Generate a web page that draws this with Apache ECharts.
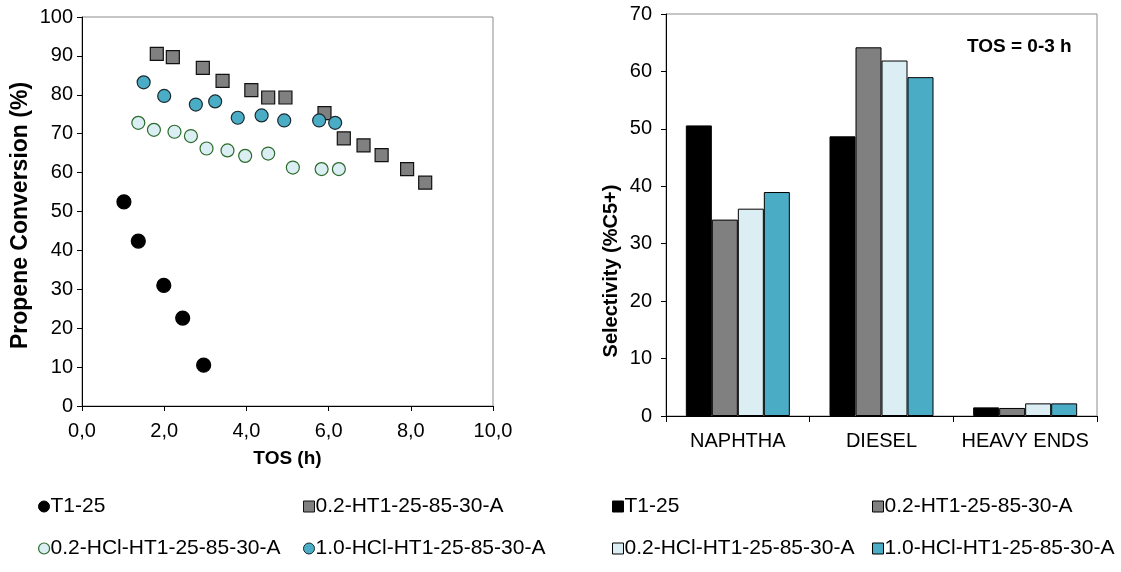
<!DOCTYPE html>
<html>
<head>
<meta charset="utf-8">
<script src="https://cdn.jsdelivr.net/npm/echarts@6/dist/echarts.min.js"></script>
<style>html,body{margin:0;padding:0;background:#fff;}#c{width:1121px;height:572px;}</style>
</head>
<body>
<div id="c"></div>
<script>
// ---- Data ----
const seriesNames = ['T1-25', '0.2-HT1-25-85-30-A', '0.2-HCl-HT1-25-85-30-A', '1.0-HCl-HT1-25-85-30-A'];

// Left: propene conversion vs TOS
const t1_x = [1.02, 1.37, 1.99, 2.45, 2.96];
const t1_y = [52.5, 42.4, 31.0, 22.6, 10.5];
const ht_x = [1.82, 2.21, 2.94, 3.42, 4.12, 4.53, 4.95, 5.90, 6.37, 6.85, 7.29, 7.91, 8.35];
const ht_y = [90.5, 89.7, 86.9, 83.6, 81.2, 79.3, 79.3, 75.3, 68.8, 67.0, 64.5, 60.9, 57.4];
const hcl02_x = [1.37, 1.75, 2.25, 2.65, 3.03, 3.54, 3.97, 4.53, 5.13, 5.83, 6.25];
const hcl02_y = [72.8, 71.0, 70.5, 69.4, 66.2, 65.7, 64.3, 64.9, 61.3, 60.9, 60.9];
const hcl10_x = [1.50, 2.00, 2.77, 3.24, 3.79, 4.37, 4.92, 5.77, 6.16];
const hcl10_y = [83.2, 79.7, 77.5, 78.3, 74.1, 74.7, 73.4, 73.4, 72.8];

// Right: selectivity by fraction (TOS = 0-3 h)
const fractions = ['NAPHTHA', 'DIESEL', 'HEAVY ENDS'];
const sel_t1 = [50.6, 48.7, 1.5];
const sel_ht = [34.2, 64.2, 1.4];
const sel_hcl02 = [36.1, 61.9, 2.2];
const sel_hcl10 = [39.0, 59.0, 2.2];

const leftTitle = 'Propene Conversion (%)';
const leftXTitle = 'TOS (h)';
const rightTitle = 'Selectivity (%C5+)';
const noteText = 'TOS = 0-3 h';

// ---- Styles ----
const FONT = 'Liberation Sans, Arial, sans-serif';
const colors = ['#000000', '#808080', '#DAEEF3', '#4BACC6'];
const markerBorders = ['#000000', '#111111', '#2A6A2A', '#1a2a30'];

function pairs(xs, ys) { return xs.map((x, i) => [x, ys[i]]); }

const scatterSets = [pairs(t1_x, t1_y), pairs(ht_x, ht_y), pairs(hcl02_x, hcl02_y), pairs(hcl10_x, hcl10_y)];
const symbols = ['circle', 'rect', 'circle', 'circle'];
const symSizes = [14, 13, 13, 13];
const barSets = [sel_t1, sel_ht, sel_hcl02, sel_hcl10];

const series = [];
scatterSets.forEach((d, i) => {
  series.push({
    type: 'scatter', name: seriesNames[i], xAxisIndex: 0, yAxisIndex: 0,
    data: d, symbol: symbols[i], symbolSize: symSizes[i],
    itemStyle: { color: colors[i], borderColor: markerBorders[i], borderWidth: 1.2, opacity: 1 },
    emphasis: { disabled: true }, z: 3 + i
  });
});
barSets.forEach((d, i) => {
  series.push({
    type: 'bar', name: seriesNames[i], xAxisIndex: 1, yAxisIndex: 1,
    data: d, barWidth: 26, barGap: '0%',
    itemStyle: { color: colors[i], borderColor: '#000', borderWidth: 1 },
    emphasis: { disabled: true }
  });
});

function legendItem(i, left, top, icon, style) {
  return {
    left: left, top: top, orient: 'horizontal', padding: 0,
    itemWidth: 11, itemHeight: 11, itemGap: 0, selectedMode: false,
    textStyle: { fontFamily: FONT, fontSize: 21, color: '#000', padding: [0, 0, 0, -4] },
    data: [{ name: seriesNames[i], icon: icon, itemStyle: style }]
  };
}

const legends = [
  legendItem(0, 38, 496, 'circle', { color: '#000', borderColor: '#000', borderWidth: 1 }),
  legendItem(1, 303, 496, 'rect', { color: colors[1], borderColor: '#111', borderWidth: 1 }),
  legendItem(2, 38, 538, 'circle', { color: colors[2], borderColor: markerBorders[2], borderWidth: 1.2 }),
  legendItem(3, 303, 538, 'circle', { color: colors[3], borderColor: '#1a2a30', borderWidth: 1 }),
  legendItem(0, 612, 496, 'rect', { color: '#000', borderColor: '#000', borderWidth: 1 }),
  legendItem(1, 872, 496, 'rect', { color: colors[1], borderColor: '#000', borderWidth: 1 }),
  legendItem(2, 612, 538, 'rect', { color: colors[2], borderColor: '#000', borderWidth: 1 }),
  legendItem(3, 872, 538, 'rect', { color: colors[3], borderColor: '#000', borderWidth: 1 })
];

const axisLabel = { fontFamily: FONT, fontSize: 20, color: '#000' };
const axisLine = { show: true, onZero: false, lineStyle: { color: '#000', width: 1 } };

const option = {
  animation: false,
  backgroundColor: '#fff',
  title: {
    text: noteText, left: 967, top: 37, padding: 0,
    textStyle: { fontFamily: FONT, fontSize: 19, fontWeight: 'bold', color: '#000' }
  },
  legend: legends,
  grid: [
    { left: 82, top: 17, width: 411, height: 389, show: true, borderColor: '#8c8c8c', borderWidth: 1, backgroundColor: 'transparent', containLabel: false },
    { left: 666, top: 14, width: 431, height: 402, show: true, borderColor: '#8c8c8c', borderWidth: 1, backgroundColor: 'transparent', containLabel: false }
  ],
  xAxis: [
    {
      type: 'value', gridIndex: 0, min: 0, max: 10, interval: 2,
      name: leftXTitle, nameLocation: 'middle', nameGap: 43,
      nameTextStyle: { fontFamily: FONT, fontSize: 19, fontWeight: 'bold', color: '#000' },
      axisLine: axisLine,
      axisTick: { show: true, inside: false, length: 5, lineStyle: { color: '#000' } },
      axisLabel: Object.assign({ margin: 15, formatter: v => v.toFixed(1).replace('.', ',') }, axisLabel),
      splitLine: { show: false }
    },
    {
      type: 'category', gridIndex: 1, data: fractions,
      axisLine: axisLine,
      axisTick: { show: true, inside: false, length: 6, alignWithLabel: false, lineStyle: { color: '#000' } },
      axisLabel: Object.assign({ margin: 15, interval: 0 }, axisLabel),
      splitLine: { show: false }
    }
  ],
  yAxis: [
    {
      type: 'value', gridIndex: 0, min: 0, max: 100, interval: 10,
      name: leftTitle, nameLocation: 'middle', nameGap: 50, nameRotate: 90,
      nameTextStyle: { fontFamily: FONT, fontSize: 23, fontWeight: 'bold', color: '#000', padding: [0, 8, 0, 0] },
      axisLine: axisLine,
      axisTick: { show: true, inside: false, length: 5, lineStyle: { color: '#000' } },
      axisLabel: Object.assign({ margin: 9 }, axisLabel),
      splitLine: { show: false }
    },
    {
      type: 'value', gridIndex: 1, min: 0, max: 70, interval: 10,
      name: rightTitle, nameLocation: 'middle', nameGap: 45, nameRotate: 90,
      nameTextStyle: { fontFamily: FONT, fontSize: 20, fontWeight: 'bold', color: '#000', padding: [0, 112, 0, 0] },
      axisLine: axisLine,
      axisTick: { show: true, inside: false, length: 5, lineStyle: { color: '#000' } },
      axisLabel: Object.assign({ margin: 14 }, axisLabel),
      splitLine: { show: false }
    }
  ],
  series: series
};

const chart = echarts.init(document.getElementById('c'), null, { renderer: 'canvas' });
chart.setOption(option);
</script>
</body>
</html>
